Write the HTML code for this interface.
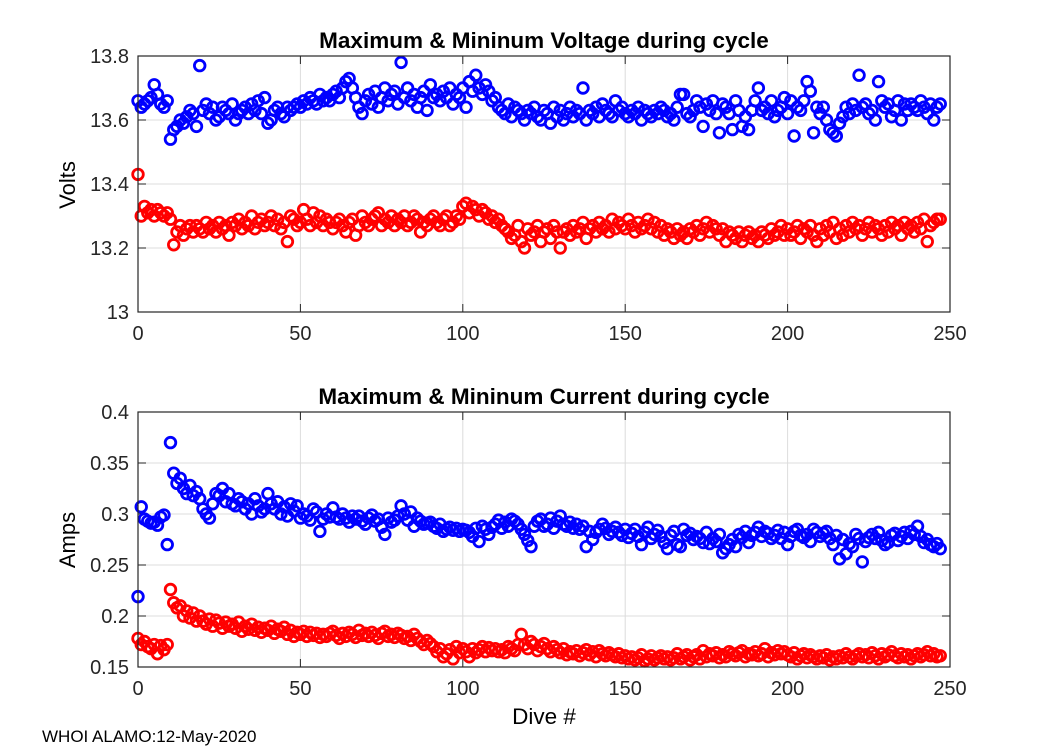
<!DOCTYPE html>
<html><head><meta charset="utf-8"><style>
body{margin:0;background:#fff;}
svg{display:block;font-family:"Liberation Sans",Arial,sans-serif;}
</style></head><body>
<svg id="fig" width="1050" height="750" viewBox="0 0 1050 750">
<text x="544" y="48" text-anchor="middle" font-size="22.5" font-weight="bold">Maximum &amp; Mininum Voltage during cycle</text>
<text x="544" y="404" text-anchor="middle" font-size="22.5" font-weight="bold">Maximum &amp; Mininum Current during cycle</text>
<text transform="translate(75,185) rotate(-90)" text-anchor="middle" font-size="22">Volts</text>
<text transform="translate(75,540) rotate(-90)" text-anchor="middle" font-size="22">Amps</text>
<text x="544" y="724" text-anchor="middle" font-size="22.5">Dive #</text>
<text x="42" y="742" font-size="17">WHOI ALAMO:12-May-2020</text>
</svg>
<script>
const vMax=[13.66,13.64,13.65,13.66,13.67,13.71,13.68,13.65,13.64,13.66,
13.54,13.57,13.58,13.60,13.59,13.61,13.63,13.62,13.58,13.77,
13.63,13.65,13.62,13.64,13.60,13.61,13.64,13.63,13.62,13.65,
13.60,13.62,13.63,13.64,13.62,13.65,13.63,13.66,13.62,13.67,
13.59,13.60,13.63,13.64,13.62,13.61,13.64,13.63,13.64,13.65,
13.64,13.66,13.65,13.67,13.66,13.65,13.68,13.66,13.67,13.66,
13.68,13.69,13.67,13.70,13.72,13.73,13.70,13.67,13.64,13.62,
13.66,13.68,13.65,13.69,13.64,13.67,13.70,13.66,13.68,13.69,
13.65,13.78,13.67,13.70,13.66,13.68,13.64,13.67,13.69,13.63,
13.71,13.67,13.68,13.66,13.69,13.67,13.70,13.65,13.68,13.67,
13.70,13.64,13.72,13.69,13.74,13.70,13.68,13.71,13.69,13.66,
13.67,13.64,13.63,13.62,13.65,13.61,13.64,13.63,13.62,13.60,
13.63,13.62,13.64,13.61,13.60,13.63,13.62,13.59,13.64,13.61,
13.63,13.60,13.62,13.64,13.61,13.63,13.62,13.70,13.60,13.63,
13.62,13.64,13.61,13.65,13.63,13.62,13.61,13.66,13.63,13.64,
13.62,13.61,13.63,13.62,13.64,13.60,13.63,13.62,13.61,13.63,
13.62,13.64,13.63,13.61,13.62,13.60,13.64,13.68,13.68,13.62,
13.61,13.63,13.66,13.64,13.58,13.65,13.63,13.66,13.62,13.56,
13.65,13.64,13.62,13.57,13.66,13.63,13.58,13.61,13.57,13.63,
13.66,13.70,13.63,13.64,13.62,13.66,13.61,13.63,13.64,13.67,
13.62,13.66,13.55,13.64,13.63,13.66,13.72,13.69,13.56,13.64,
13.62,13.64,13.60,13.57,13.56,13.55,13.59,13.61,13.64,13.62,
13.65,13.63,13.74,13.64,13.65,13.62,13.63,13.60,13.72,13.66,
13.64,13.65,13.61,13.63,13.66,13.60,13.65,13.63,13.65,13.64,
13.63,13.66,13.64,13.62,13.65,13.60,13.64,13.65];
const vMin=[13.43,13.30,13.33,13.31,13.32,13.30,13.32,13.31,13.30,13.31,
13.29,13.21,13.25,13.27,13.24,13.26,13.27,13.25,13.27,13.26,
13.25,13.28,13.26,13.27,13.25,13.28,13.26,13.27,13.24,13.28,
13.27,13.29,13.26,13.28,13.27,13.30,13.26,13.28,13.29,13.27,
13.28,13.30,13.27,13.29,13.26,13.28,13.22,13.30,13.29,13.27,
13.28,13.32,13.29,13.27,13.31,13.28,13.30,13.27,13.29,13.28,
13.26,13.28,13.29,13.27,13.25,13.28,13.29,13.24,13.27,13.30,
13.28,13.27,13.29,13.30,13.31,13.27,13.29,13.28,13.30,13.27,
13.29,13.28,13.30,13.27,13.28,13.30,13.29,13.25,13.28,13.27,
13.29,13.30,13.28,13.27,13.29,13.30,13.27,13.28,13.30,13.29,
13.33,13.34,13.31,13.33,13.32,13.30,13.32,13.31,13.29,13.30,
13.28,13.29,13.27,13.26,13.25,13.23,13.24,13.27,13.22,13.20,
13.26,13.24,13.25,13.27,13.22,13.25,13.26,13.23,13.27,13.25,
13.20,13.25,13.26,13.24,13.27,13.25,13.26,13.28,13.23,13.26,
13.27,13.25,13.28,13.26,13.27,13.25,13.29,13.26,13.28,13.27,
13.26,13.29,13.27,13.25,13.28,13.26,13.27,13.29,13.26,13.28,
13.25,13.27,13.24,13.26,13.25,13.23,13.26,13.24,13.25,13.23,
13.26,13.25,13.27,13.24,13.26,13.28,13.25,13.27,13.26,13.24,
13.26,13.22,13.25,13.24,13.23,13.25,13.22,13.24,13.25,13.23,
13.24,13.22,13.25,13.24,13.23,13.26,13.24,13.25,13.27,13.24,
13.26,13.24,13.25,13.27,13.23,13.26,13.25,13.27,13.24,13.22,
13.26,13.24,13.27,13.25,13.28,13.23,13.26,13.24,13.27,13.25,
13.28,13.26,13.27,13.24,13.26,13.28,13.25,13.27,13.26,13.24,
13.27,13.25,13.28,13.26,13.27,13.24,13.28,13.26,13.27,13.25,
13.28,13.26,13.29,13.22,13.27,13.28,13.29,13.29];
const iMax=[0.219,0.307,0.295,0.293,0.291,0.292,0.289,0.297,0.299,0.270,
0.370,0.340,0.330,0.335,0.325,0.320,0.328,0.318,0.322,0.315,
0.305,0.300,0.296,0.310,0.320,0.318,0.325,0.312,0.320,0.310,
0.308,0.315,0.312,0.305,0.310,0.300,0.315,0.308,0.302,0.305,
0.320,0.310,0.305,0.312,0.300,0.307,0.298,0.310,0.303,0.308,
0.296,0.300,0.298,0.294,0.305,0.302,0.283,0.295,0.300,0.297,
0.306,0.297,0.295,0.300,0.296,0.292,0.298,0.295,0.298,0.293,
0.290,0.296,0.299,0.293,0.295,0.287,0.280,0.296,0.292,0.294,
0.298,0.308,0.300,0.294,0.302,0.288,0.296,0.293,0.290,0.291,
0.292,0.288,0.286,0.290,0.283,0.285,0.287,0.284,0.286,0.283,
0.285,0.284,0.282,0.278,0.286,0.273,0.288,0.285,0.280,0.287,
0.290,0.294,0.286,0.292,0.288,0.295,0.293,0.290,0.285,0.280,
0.274,0.268,0.288,0.293,0.295,0.288,0.290,0.296,0.286,0.293,
0.298,0.290,0.288,0.292,0.286,0.290,0.285,0.288,0.268,0.283,
0.275,0.282,0.285,0.290,0.286,0.280,0.283,0.287,0.282,0.279,
0.285,0.277,0.281,0.285,0.278,0.270,0.282,0.287,0.276,0.280,
0.284,0.278,0.272,0.266,0.279,0.283,0.270,0.268,0.285,0.279,
0.281,0.275,0.278,0.276,0.272,0.282,0.271,0.276,0.273,0.280,
0.262,0.266,0.270,0.275,0.268,0.280,0.277,0.283,0.272,0.279,
0.282,0.287,0.278,0.283,0.281,0.276,0.279,0.284,0.276,0.282,
0.270,0.278,0.283,0.285,0.279,0.277,0.280,0.273,0.285,0.282,
0.278,0.281,0.283,0.276,0.270,0.279,0.256,0.275,0.261,0.271,
0.268,0.280,0.276,0.253,0.273,0.277,0.280,0.276,0.282,0.274,
0.270,0.272,0.279,0.281,0.274,0.278,0.282,0.276,0.283,0.280,
0.288,0.278,0.272,0.275,0.270,0.268,0.271,0.266];
const iMin=[0.178,0.172,0.175,0.170,0.168,0.172,0.163,0.171,0.167,0.172,
0.226,0.213,0.208,0.210,0.200,0.205,0.198,0.203,0.195,0.200,
0.195,0.192,0.197,0.190,0.196,0.193,0.188,0.194,0.190,0.192,
0.188,0.194,0.185,0.190,0.187,0.192,0.186,0.189,0.184,0.188,
0.186,0.190,0.183,0.187,0.185,0.189,0.182,0.186,0.180,0.184,
0.182,0.185,0.180,0.184,0.181,0.183,0.179,0.182,0.180,0.183,
0.185,0.181,0.178,0.183,0.180,0.184,0.182,0.179,0.186,0.181,
0.183,0.180,0.184,0.181,0.178,0.183,0.185,0.180,0.182,0.179,
0.183,0.181,0.178,0.180,0.176,0.182,0.178,0.175,0.172,0.176,
0.173,0.170,0.165,0.168,0.160,0.163,0.167,0.158,0.170,0.164,
0.168,0.165,0.160,0.168,0.164,0.167,0.170,0.165,0.169,0.166,
0.168,0.165,0.167,0.164,0.170,0.168,0.166,0.172,0.182,0.172,
0.168,0.175,0.172,0.166,0.170,0.173,0.168,0.165,0.170,0.167,
0.164,0.168,0.162,0.165,0.163,0.166,0.161,0.164,0.167,0.162,
0.165,0.160,0.166,0.163,0.161,0.164,0.162,0.160,0.163,0.159,
0.161,0.158,0.160,0.157,0.159,0.162,0.156,0.158,0.161,0.157,
0.159,0.161,0.158,0.160,0.157,0.159,0.163,0.158,0.160,0.162,
0.157,0.160,0.162,0.158,0.166,0.160,0.163,0.161,0.164,0.159,
0.162,0.160,0.165,0.163,0.161,0.164,0.166,0.160,0.163,0.162,
0.165,0.161,0.163,0.168,0.160,0.164,0.162,0.166,0.163,0.165,
0.162,0.160,0.164,0.158,0.161,0.163,0.159,0.162,0.160,0.158,
0.161,0.159,0.162,0.157,0.160,0.158,0.161,0.159,0.163,0.160,
0.158,0.161,0.163,0.160,0.162,0.159,0.164,0.161,0.158,0.163,
0.160,0.162,0.165,0.161,0.159,0.163,0.160,0.162,0.158,0.161,
0.163,0.160,0.162,0.165,0.161,0.163,0.160,0.161];
const xTicks=[0,50,100,150,200,250];
const vTicks=[13,13.2,13.4,13.6,13.8];
const vTickLabels=["13","13.2","13.4","13.6","13.8"];
const iTicks=[0.15,0.2,0.25,0.3,0.35,0.4];
const iTickLabels=["0.15","0.2","0.25","0.3","0.35","0.4"];

const NS="http://www.w3.org/2000/svg";
const svg=document.getElementById('fig');
function mk(tag,attrs,parent){const e=document.createElementNS(NS,tag);for(const k in attrs)e.setAttribute(k,attrs[k]);(parent||svg).appendChild(e);return e;}
const L=138,R=950;
const xs=v=>L+(v-0)/(250-0)*(R-L);

function panel(name,top,bot,ymin,ymax,yt,ytl,series){
  const ys=v=>bot-(v-ymin)/(ymax-ymin)*(bot-top);
  const g=mk('g',{});
  
  
  mk('rect',{x:L,y:top,width:R-L,height:bot-top,fill:'#fff'},g);
  xTicks.forEach(t=>{
    const x=xs(t);
    const gl=mk('line',{x1:x,x2:x,y1:top,y2:bot,stroke:'#dcdcdc','stroke-width':1},g);
    
    
    mk('line',{x1:x,x2:x,y1:bot,y2:bot-8,stroke:'#262626','stroke-width':1},g);
    mk('line',{x1:x,x2:x,y1:top,y2:top+8,stroke:'#262626','stroke-width':1},g);
    const tx=mk('text',{x:x,y:bot+28,'text-anchor':'middle','font-size':20,fill:'#262626'},g);
    tx.textContent=String(t);
    
    
  });
  yt.forEach((t,i)=>{
    const y=ys(t);
    const gl=mk('line',{x1:L,x2:R,y1:y,y2:y,stroke:'#dcdcdc','stroke-width':1},g);
    
    
    mk('line',{x1:L,x2:L+8,y1:y,y2:y,stroke:'#262626','stroke-width':1},g);
    mk('line',{x1:R,x2:R-8,y1:y,y2:y,stroke:'#262626','stroke-width':1},g);
    const tx=mk('text',{x:L-9,y:y+7,'text-anchor':'end','font-size':20,fill:'#262626'},g);
    tx.textContent=ytl[i];
    
    
  });
  series.forEach(s=>{
    const sg=mk('g',{fill:'none',stroke:s.color,'stroke-width':2.8},g);
    
    
    s.data.forEach((v,i)=>{
      const c=mk('circle',{cx:xs(i),cy:ys(v),r:5.3},sg);
      
      
    });
  });
  const b=mk('rect',{x:L,y:top,width:R-L,height:bot-top,fill:'none',stroke:'#262626','stroke-width':1.2},g);
  
  
}
panel('voltage',56,312,13,13.8,vTicks,vTickLabels,[{name:'max-voltage-series',color:'#0000ff',data:vMax},{name:'min-voltage-series',color:'#ff0000',data:vMin}]);
panel('current',412,667,0.15,0.4,iTicks,iTickLabels,[{name:'max-current-series',color:'#0000ff',data:iMax},{name:'min-current-series',color:'#ff0000',data:iMin}]);
</script>
</body></html>
